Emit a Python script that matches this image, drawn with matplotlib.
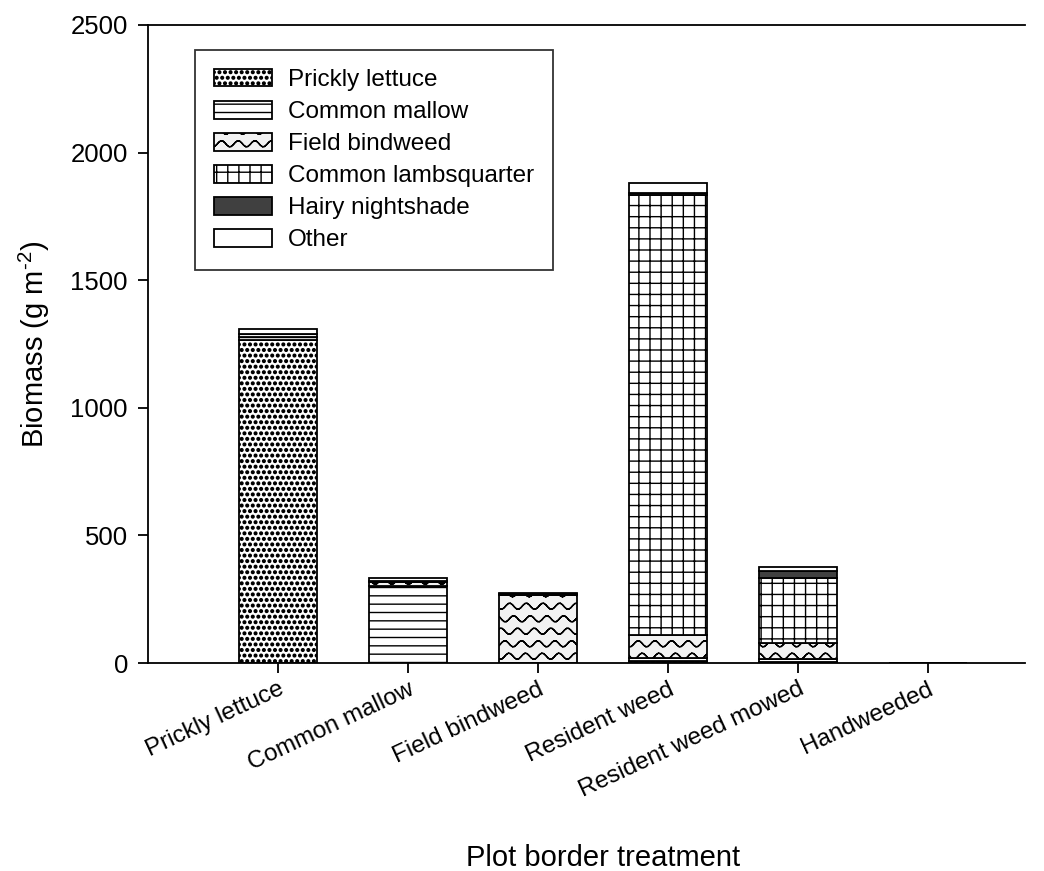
import matplotlib.pyplot as plt
import matplotlib.hatch as mhatch
from matplotlib.path import Path
import numpy as np

plt.rcParams['font.family'] = ['Liberation Sans', 'DejaVu Sans']
plt.rcParams['mathtext.fontset'] = 'custom'
plt.rcParams['mathtext.rm'] = 'Liberation Sans'
plt.rcParams['hatch.linewidth'] = 1.0

# Data (g m-2)
treatments = ["Prickly lettuce", "Common mallow", "Field bindweed",
              "Resident weed", "Resident weed mowed", "Handweeded"]
prickly_lettuce = [1265, 0, 0, 8, 3, 0]
common_mallow = [12, 300, 0, 12, 12, 0]
field_bindweed = [13, 18, 265, 90, 65, 0]
lambsquarter = [0, 0, 0, 1725, 252, 0]
hairy_nightshade = [0, 3, 6, 8, 28, 0]
other = [20, 12, 5, 37, 15, 0]


# --- custom hatches (SigmaPlot-like fills) ---
class BigDots(mhatch.Circles):
    size = 0.24
    filled = True

    def __init__(self, hatch, density):
        self.num_rows = hatch.count('.') * density
        super().__init__(hatch, density)


class Waves(mhatch.HatchPatternBase):
    # wavy lines, drawn for '*'; each line goes out and back so agg's fill adds nothing
    def __init__(self, hatch, density):
        self.num_lines = int(hatch.count('*') * 8)
        self.npts = 49
        self.num_vertices = self.num_lines * self.npts * 2

    def set_vertices_and_codes(self, vertices, codes):
        n = self.num_lines
        t = np.linspace(0, 1, self.npts)
        t2 = np.concatenate([t, t[::-1]])
        m = 2 * self.npts
        for i in range(n):
            k = i * m
            y0 = (i + 0.5) / n
            vertices[k:k + m, 0] = t2
            vertices[k:k + m, 1] = y0 + 0.25 / n * np.sin(2 * np.pi * 6 * t2 + i * 1.5)
            codes[k] = Path.MOVETO
            codes[k + 1:k + m] = Path.LINETO


class Grid(mhatch.HatchPatternBase):
    # square grid, 9 lines per inch, drawn for 'O'
    def __init__(self, hatch, density):
        self.num_lines = int(hatch.count('O') * 9)
        self.num_vertices = self.num_lines * 4

    def set_vertices_and_codes(self, vertices, codes):
        steps, step = np.linspace(0.0, 1.0, self.num_lines, False, retstep=True)
        steps += step / 2
        n = self.num_lines * 2
        vertices[0:n:2, 0] = 0.0
        vertices[0:n:2, 1] = steps
        vertices[1:n:2, 0] = 1.0
        vertices[1:n:2, 1] = steps
        vertices[n::2, 0] = steps
        vertices[n::2, 1] = 0.0
        vertices[n + 1::2, 0] = steps
        vertices[n + 1::2, 1] = 1.0
        codes[0::2] = Path.MOVETO
        codes[1::2] = Path.LINETO


mhatch._hatch_types = [mhatch.HorizontalHatch, mhatch.VerticalHatch,
                       mhatch.NorthEastHatch, mhatch.SouthEastHatch,
                       BigDots, Waves, Grid]

series = [
    ("Prickly lettuce", prickly_lettuce, 'white', '...'),
    ("Common mallow", common_mallow, 'white', '--'),
    ("Field bindweed", field_bindweed, '#f2f2f2', '*'),
    ("Common lambsquarter", lambsquarter, 'white', 'O'),
    ("Hairy nightshade", hairy_nightshade, '#404040', None),
    ("Other", other, 'white', None),
]

fig = plt.figure(figsize=(10.44, 8.71), dpi=100)
ax = fig.add_axes([0.1418, 0.2388, 0.8402, 0.7325])

x = np.arange(len(treatments))
bottom = np.zeros(len(treatments))
for name, vals, fc, hatch in series:
    vals = np.array(vals, dtype=float)
    ax.bar(x, vals, width=0.6, bottom=bottom, color=fc, edgecolor='black',
           linewidth=1.3, hatch=hatch, label=name)
    bottom += vals

ax.set_xlim(-1, 5.75)
ax.set_ylim(0, 2500)
ax.set_yticks([0, 500, 1000, 1500, 2000, 2500])
ax.set_xticks(x)
ax.set_xticklabels(treatments, rotation=25, ha='right', rotation_mode='anchor')
ax.tick_params(labelsize=17.5, width=1.3, length=7.5)
ax.tick_params(axis='y', labelsize=18.5, pad=7)
ax.spines['right'].set_visible(False)
for s in ['left', 'bottom', 'top']:
    ax.spines[s].set_linewidth(1.3)

ax.set_ylabel("Biomass (g m$^{\\text{-}2}$)", fontsize=21)
ax.yaxis.set_label_coords(-0.11, 0.5)
ax.set_xlabel("Plot border treatment", fontsize=21)
ax.xaxis.set_label_coords(0.519, -0.283)

leg = ax.legend(loc='upper left', bbox_to_anchor=(0.0536, 0.961), borderaxespad=0,
                fontsize=17.5, frameon=True, fancybox=False, edgecolor='black',
                handlelength=2.39, handleheight=0.74, labelspacing=0.40,
                borderpad=0.78, handletextpad=0.65)
leg.get_frame().set_linewidth(1.3)

plt.savefig("out.png", dpi=100)
